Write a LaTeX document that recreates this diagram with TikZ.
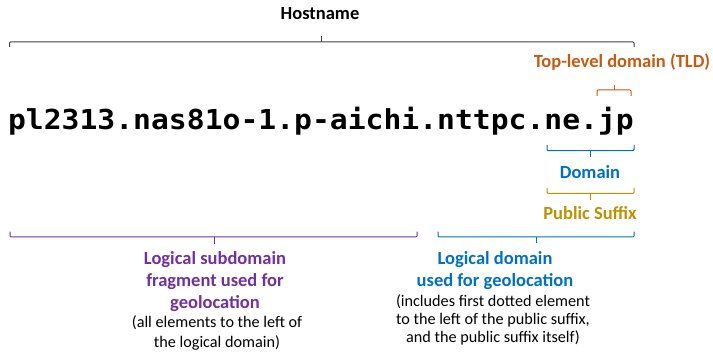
\documentclass[tikz,border=0pt]{standalone}
\usepackage{fontspec}
\setmainfont{Carlito}
\newfontfamily\monofont[FakeStretch=1.08]{DejaVu Sans Mono}
\definecolor{tldorange}{HTML}{C55A11}
\definecolor{domblue}{HTML}{0070C0}
\definecolor{psgold}{HTML}{BF9000}
\definecolor{subpurple}{HTML}{7030A0}
\definecolor{hostgray}{HTML}{404040}
\tikzset{
  lbl/.style={font=\fontsize{18.5}{22}\selectfont\bfseries, anchor=base, inner sep=0pt},
  note/.style={font=\fontsize{16.2}{19}\selectfont, anchor=base, inner sep=0pt, text=black},
  brace/.style={line width=1pt, rounded corners=1pt},
}
\begin{document}
\begin{tikzpicture}[x=1pt,y=-1pt]
\useasboundingbox (0,0) rectangle (713,358);

% main host string
\node[anchor=base, inner sep=0pt, font=\monofont\bfseries\fontsize{27.5}{30}\selectfont] (host) at (321,130) {pl2313.nas81o-1.p-aichi.nttpc.ne.jp};

% Hostname
\node[lbl, text=black] (hostname) at (320,20) {Hostname};
\coordinate (hL) at (9.5,47); \coordinate (hR) at (634,47);
\coordinate (hM) at (321,42); \coordinate (hT) at (321,36);
\draw[brace, hostgray] (hL) |- (hM) -| (hR);
\draw[brace, hostgray] (hM) -- (hT);

% TLD
\node[lbl, text=tldorange] (tld) at (622,68) {Top-level domain (TLD)};
\coordinate (tL) at (597,96); \coordinate (tR) at (631,96);
\coordinate (tM) at (614,90); \coordinate (tT) at (614,85);
\draw[brace, tldorange] (tL) |- (tM) -| (tR);
\draw[brace, tldorange] (tM) -- (tT);

% Domain
\coordinate (dL) at (547,145); \coordinate (dR) at (634,145);
\coordinate (dM) at (590,150.7); \coordinate (dT) at (590,157);
\draw[brace, domblue] (dL) |- (dM) -| (dR);
\draw[brace, domblue] (dM) -- (dT);
\node[lbl, text=domblue] (domain) at (590,179) {Domain};

% Public suffix
\coordinate (pL) at (547,188); \coordinate (pR) at (634,188);
\coordinate (pM) at (590,193.3); \coordinate (pT) at (590,200.5);
\draw[brace, psgold] (pL) |- (pM) -| (pR);
\draw[brace, psgold] (pM) -- (pT);
\node[lbl, text=psgold] (suffix) at (590,220) {Public Suffix};

% Logical subdomain bracket
\coordinate (sL) at (10,231.7); \coordinate (sR) at (417,231.7);
\coordinate (sM) at (214,237); \coordinate (sT) at (214,244);
\draw[brace, subpurple] (sL) |- (sM) -| (sR);
\draw[brace, subpurple] (sM) -- (sT);

% Logical domain bracket
\coordinate (gL) at (438,231.7); \coordinate (gR) at (634,231.7);
\coordinate (gM) at (536,237); \coordinate (gT) at (536,243);
\draw[brace, domblue] (gL) |- (gM) -| (gR);
\draw[brace, domblue] (gM) -- (gT);

% Left texts
\node[lbl, text=subpurple] (s1) at (215,265) {Logical subdomain};
\node[lbl, text=subpurple] (s2) at (215,287) {fragment used for};
\node[lbl, text=subpurple] (s3) at (215,308.5) {geolocation};
\node[note] (s4) at (217,328) {(all elements to the left of};
\node[note] (s5) at (217,347.5) {the logical domain)};

% Right texts
\node[lbl, text=domblue] (g1) at (495,265) {Logical domain};
\node[lbl, text=domblue] (g2) at (495,287) {used for geolocation};
\node[note] (g3) at (493,307) {(includes first dotted element};
\node[note] (g4) at (493,325) {to the left of the public suffix,};
\node[note] (g5) at (493,343) {and the public suffix itself)};
\end{tikzpicture}
\end{document}
